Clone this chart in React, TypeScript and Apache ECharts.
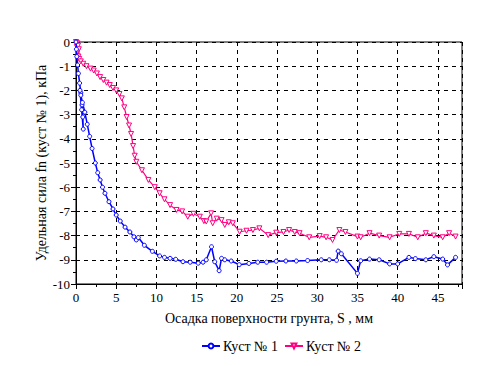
import React, { useEffect, useRef } from "react";
import * as echarts from "echarts";

const seriesNames = ["Куст № 1", "Куст № 2"];

const bush1: [number, number][] = [
  [0, 0], [0.05, -0.3], [0.1, -0.6], [0.2, -0.95], [0.3, -1.3], [0.45, -1.7], [0.6, -2.1],
  [0.75, -2.6], [0.85, -3.1], [0.9, -3.6], [0.7, -2.8], [0.5, -2.0], [0.6, -2.2], [0.8, -2.5],
  [1.1, -2.9], [1.4, -3.4], [1.7, -3.9], [2.0, -4.4], [2.4, -5.0], [2.7, -5.4], [3.0, -5.7],
  [3.3, -6.0], [3.6, -6.25], [4.1, -6.6], [4.6, -6.9], [5.0, -7.15], [5.5, -7.4], [6.1, -7.65],
  [6.7, -7.85], [7.2, -8.05], [7.5, -8.18], [7.75, -8.08], [8.5, -8.4], [9.5, -8.65],
  [10.4, -8.84], [11.0, -8.9], [11.7, -8.94], [12.4, -8.98], [13.3, -9.08], [14.2, -9.1],
  [15.2, -9.14], [15.8, -9.1], [16.2, -9.0], [16.85, -8.46], [17.25, -9.08], [17.8, -9.45],
  [18.1, -8.94], [18.5, -9.0], [19.3, -9.05], [20.3, -9.2], [21.5, -9.15], [22.6, -9.1],
  [23.7, -9.1], [24.9, -9.06], [26.1, -9.05], [27.4, -9.05], [28.8, -9.03], [30.5, -9.0],
  [31.5, -9.0], [32.4, -9.02], [32.6, -8.64], [33.0, -8.75], [35.0, -9.56], [35.4, -9.04],
  [36.5, -8.97], [37.7, -9.0], [39.0, -9.17], [40.0, -9.17], [41.4, -8.9], [42.2, -8.95],
  [43.5, -9.0], [44.5, -8.87], [45.6, -8.97], [46.2, -9.21], [47.2, -8.9],
];

const bush2: [number, number][] = [
  [0, 0], [0.1, -0.2], [0.15, -0.05], [0.2, -0.4], [0.25, -0.15], [0.3, -0.6], [0.35, -0.3],
  [0.4, -0.7], [0.6, -0.8], [0.9, -0.9], [1.3, -1.0], [1.8, -1.1], [2.2, -1.18], [2.6, -1.3],
  [3.0, -1.45], [3.4, -1.57], [3.8, -1.68], [4.2, -1.78], [4.6, -1.9], [5.0, -2.0],
  [5.4, -2.15], [5.7, -2.33], [6.0, -2.7], [6.3, -3.1], [6.6, -3.45], [6.85, -3.8],
  [7.1, -4.3], [7.3, -4.7], [7.5, -4.95], [8.2, -5.3], [9.0, -5.7], [9.8, -6.0],
  [10.4, -6.25], [11.0, -6.5], [11.7, -6.74], [12.5, -6.94], [13.2, -7.0], [13.9, -7.22],
  [14.6, -7.1], [15.4, -7.22], [15.9, -7.4], [16.2, -7.42], [16.8, -7.08], [17.0, -7.49],
  [17.5, -7.3], [18.1, -7.36], [18.5, -7.56], [19.0, -7.45], [19.5, -7.49], [20.35, -7.84],
  [21.2, -7.8], [22.0, -7.77], [22.8, -7.7], [23.9, -7.98], [24.9, -7.88], [25.8, -7.85],
  [26.5, -7.77], [27.2, -7.85], [27.8, -7.9], [29.0, -8.07], [30.3, -8.02], [31.1, -8.07],
  [31.9, -8.18], [32.75, -7.77], [33.5, -7.85], [35.0, -8.04], [35.4, -8.07], [36.5, -7.9],
  [37.7, -8.0], [39.0, -8.07], [40.2, -7.93], [41.4, -7.93], [42.5, -8.07], [43.5, -7.9],
  [44.5, -8.0], [45.6, -8.07], [46.4, -7.9], [47.2, -8.04],
];

const xTitle = "Осадка поверхности грунта, S , мм";
const yTitle = "Удельная сила fn (куст № 1), кПа";

const FONT = "Liberation Serif";

export default function App() {
  const ref = useRef<HTMLDivElement>(null);
  useEffect(() => {
    if (!ref.current) return;
    const chart = echarts.init(ref.current, undefined, { renderer: "svg" });
    const axisText = { color: "#000", fontFamily: FONT, fontSize: 13 };
    chart.setOption({
      animation: false,
      backgroundColor: "#fff",
      textStyle: { fontFamily: FONT },
      grid: {
        left: 76, right: 26, top: 42, bottom: 82,
        show: true, borderColor: "#000", borderWidth: 1, backgroundColor: "transparent",
      },
      legend: {
        bottom: 8,
        left: 196,
        itemWidth: 18,
        itemHeight: 6,
        itemGap: 6,
        textStyle: { ...axisText, fontSize: 14, padding: [0, 0, 0, -2] },
        data: seriesNames,
      },
      xAxis: {
        type: "value",
        min: 0,
        max: 48,
        interval: 5,
        name: xTitle,
        nameLocation: "middle",
        nameGap: 27,
        nameMoveOverlap: false,
        nameTextStyle: { ...axisText, fontSize: 14 },
        axisLine: { onZero: false, lineStyle: { color: "#000" } },
        axisTick: { length: 5, lineStyle: { color: "#000" } },
        minorTick: { show: true, splitNumber: 2, length: 3, lineStyle: { color: "#000" } },
        axisLabel: { ...axisText, margin: 7, showMaxLabel: false },
        splitLine: { show: true, lineStyle: { color: "#000", type: [4, 4], width: 1 } },
      },
      yAxis: {
        type: "value",
        min: -10,
        max: 0,
        interval: 1,
        name: yTitle,
        nameLocation: "middle",
        nameGap: 28,
        nameMoveOverlap: false,
        nameTextStyle: { ...axisText, fontSize: 14 },
        axisLine: { onZero: false, lineStyle: { color: "#000" } },
        axisTick: { length: 5, lineStyle: { color: "#000" } },
        minorTick: { show: true, splitNumber: 2, length: 3, lineStyle: { color: "#000" } },
        axisLabel: { ...axisText, margin: 6 },
        splitLine: { show: true, lineStyle: { color: "#000", type: [4, 4], width: 1 } },
      },
      series: [
        {
          name: seriesNames[0],
          type: "line",
          data: bush1,
          symbol: "circle",
          symbolSize: 4,
          showAllSymbol: true,
          lineStyle: { color: "#0000ff", width: 1.5 },
          itemStyle: { color: "#fff", borderColor: "#0000ff", borderWidth: 1 },
          z: 3,
        },
        {
          name: seriesNames[1],
          type: "line",
          data: bush2,
          symbol: "triangle",
          symbolRotate: 180,
          symbolSize: 5,
          showAllSymbol: true,
          lineStyle: { color: "#ff0080", width: 1.2 },
          itemStyle: { color: "#fff", borderColor: "#ff0080", borderWidth: 1 },
          z: 2,
        },
      ],
    });
    return () => chart.dispose();
  }, []);
  return <div ref={ref} style={{ width: 488, height: 366, position: "absolute", left: 0, top: 0 }} />;
}
